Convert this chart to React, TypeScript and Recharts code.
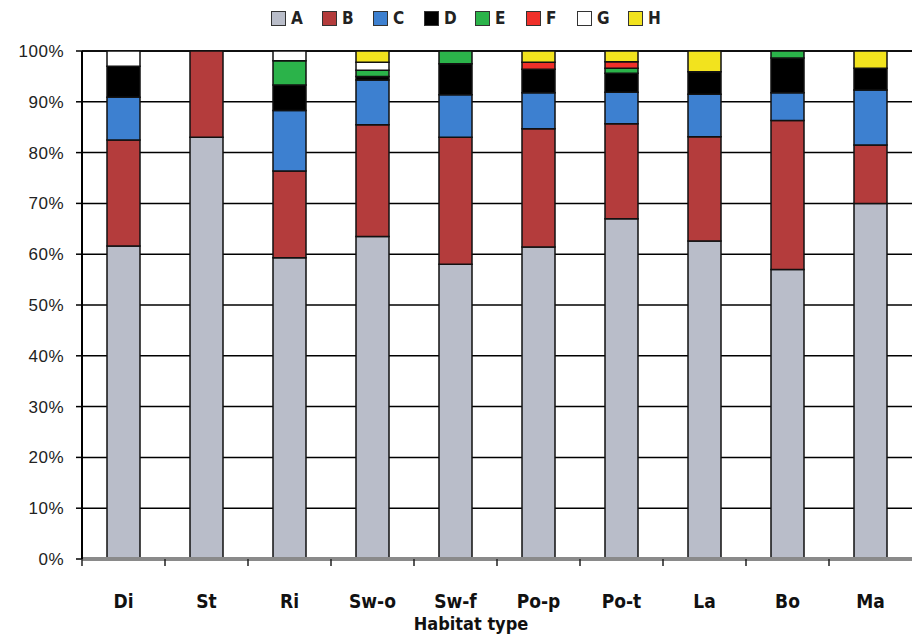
import React from "react";
import { BarChart, Bar, XAxis, YAxis, CartesianGrid } from "recharts";

const habitats = ["Di", "St", "Ri", "Sw-o", "Sw-f", "Po-p", "Po-t", "La", "Bo", "Ma"];

const seriesA = [61.6, 83.0, 59.3, 63.5, 58.0, 61.4, 67.0, 62.6, 57.0, 70.0];
const seriesB = [20.9, 17.0, 17.1, 22.0, 25.0, 23.3, 18.7, 20.5, 29.3, 11.5];
const seriesC = [8.4, 0, 11.9, 8.8, 8.4, 7.1, 6.2, 8.4, 5.5, 10.8];
const seriesD = [6.1, 0, 5.0, 0.7, 6.1, 4.6, 3.7, 4.4, 6.8, 4.3];
const seriesE = [0, 0, 4.8, 1.2, 2.5, 0, 1.0, 0, 1.4, 0];
const seriesF = [0, 0, 0, 0, 0, 1.4, 1.3, 0, 0, 0];
const seriesG = [3.0, 0, 1.9, 1.6, 0, 0, 0, 0, 0, 0];
const seriesH = [0, 0, 0, 2.2, 0, 2.2, 2.1, 4.1, 0, 3.4];

const yTicks = [0, 10, 20, 30, 40, 50, 60, 70, 80, 90, 100];

const series = [
  { key: "A", values: seriesA, color: "#b9bdc9" },
  { key: "B", values: seriesB, color: "#b43c3c" },
  { key: "C", values: seriesC, color: "#3d80d0" },
  { key: "D", values: seriesD, color: "#000000" },
  { key: "E", values: seriesE, color: "#2bb34a" },
  { key: "F", values: seriesF, color: "#f0302a" },
  { key: "G", values: seriesG, color: "#ffffff" },
  { key: "H", values: seriesH, color: "#f2e31e" },
];

const data = habitats.map((name, i) => {
  const row: { [k: string]: any } = { name };
  series.forEach((s) => {
    row[s.key] = s.values[i];
  });
  return row;
});

const WIDTH = 912;
const HEIGHT = 634;
const LEFT = 82;
const HALF_BAND = (WIDTH - LEFT) / habitats.length / 2;

const condensed = "'Liberation Sans Narrow', 'DejaVu Sans Condensed', 'Open Sans', sans-serif";

const XTick = ({ x, y, payload }: any) => (
  <g>
    <line x1={x - HALF_BAND} y1={y - 5} x2={x - HALF_BAND} y2={y + 2} stroke="#222" strokeWidth={1.5} />
    <text
      x={x}
      y={y + 44}
      textAnchor="middle"
      fontFamily={condensed}
      fontWeight="bold"
      fontSize={19}
      fill="#111"
    >
      {payload.value}
    </text>
  </g>
);

const AxisTitle = (props: any) => {
  const vb = props.viewBox || { x: LEFT, width: WIDTH - LEFT };
  return (
    <text
      x={vb.x + vb.width / 2 - 26}
      y={630}
      textAnchor="middle"
      fontFamily={condensed}
      fontWeight="bold"
      fontSize={18}
      fill="#111"
    >
      Habitat type
    </text>
  );
};

export default function App() {
  return (
    <div style={{ position: "absolute", left: 0, top: 0, width: WIDTH, height: HEIGHT, background: "#fff" }}>
      <div
        style={{
          position: "absolute",
          top: 9,
          left: 271,
          display: "flex",
          fontFamily: condensed,
          fontWeight: "bold",
          fontSize: 17,
          color: "#222",
          lineHeight: "18px",
        }}
      >
        {series.map((s) => (
          <div key={s.key} style={{ display: "flex", alignItems: "center", width: 51 }}>
            <span
              style={{
                display: "inline-block",
                width: 13,
                height: 13,
                background: s.color,
                border: "1.5px solid #333",
                marginRight: 5,
              }}
            />
            {s.key}
          </div>
        ))}
      </div>
      <BarChart
        width={WIDTH}
        height={HEIGHT}
        data={data}
        margin={{ top: 51, right: 0, left: 0, bottom: 15 }}
        barCategoryGap={0}
      >
        <CartesianGrid vertical={false} stroke="#000" strokeWidth={1.5} />
        <XAxis
          dataKey="name"
          height={60}
          tickSize={5}
          tickMargin={0}
          tickLine={false}
          axisLine={{ stroke: "#8a8a8a", strokeWidth: 4 }}
          tick={<XTick />}
          interval={0}
          label={<AxisTitle />}
        />
        <YAxis
          width={LEFT}
          domain={[0, 100]}
          ticks={yTicks}
          interval={0}
          tickFormatter={(v: number) => `${v}%`}
          axisLine={{ stroke: "#000", strokeWidth: 2 }}
          tickLine={{ stroke: "#000", strokeWidth: 1.5 }}
          tickSize={6}
          tickMargin={12}
          tick={{ fill: "#222", fontSize: 17, letterSpacing: 0.5, fontFamily: "'Liberation Sans', Arial, sans-serif" }}
        />
        {series.map((s) => (
          <Bar
            key={s.key}
            dataKey={s.key}
            stackId="a"
            fill={s.color}
            stroke="#111"
            strokeWidth={1.5}
            barSize={33}
            isAnimationActive={false}
          />
        ))}
      </BarChart>
    </div>
  );
}
